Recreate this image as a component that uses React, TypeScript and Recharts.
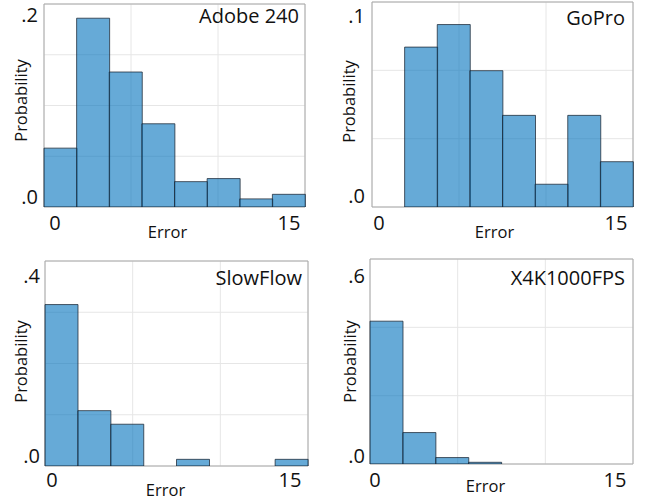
import React from "react";
import {
  BarChart,
  Bar,
  XAxis,
  YAxis,
  CartesianGrid,
  ReferenceArea,
} from "recharts";

// histogram bins (8 equal bins over error 0..15)
const binIds = ["1", "2", "3", "4", "5", "6", "7", "8"];
const binStarts = [0, 1.875, 3.75, 5.625, 7.5, 9.375, 11.25, 13.125];
const errorTicks = [0, 5, 10, 15];

// probability per bin
const adobe240 = [0.058, 0.186, 0.133, 0.082, 0.025, 0.028, 0.008, 0.0125];
const goPro = [0, 0.078, 0.089, 0.0665, 0.0447, 0.0111, 0.0447, 0.0221];
const slowFlow = [0.315, 0.108, 0.0815, 0, 0.013, 0, 0, 0.013];
const x4k1000fps = [0.418, 0.092, 0.0188, 0.005, 0, 0, 0, 0];

// y gridline values and the two labels shown (bottom, top)
const adobeTicks = [0, 0.05, 0.1, 0.15, 0.2];
const goProTicks = [0, 0.1 / 3, 0.2 / 3, 0.1];
const slowTicks = [0, 0.1, 0.2, 0.3, 0.4];
const x4kTicks = [0, 0.2, 0.4, 0.6];
const adobeYLabels = [".0", ".2"];
const goProYLabels = [".0", ".1"];
const slowYLabels = [".0", ".4"];
const x4kYLabels = [".0", ".6"];
const errorTickLabels: Record<number, string> = { 0: "0", 15: "15" };

const FONT = "'Open Sans', sans-serif";
const BIG = 20;
const SMALL = 16.5;

interface PanelLayout {
  x: number;
  y: number;
  w: number;
  h: number;
  yw: number;
  mr: number;
  mt: number;
  xh: number;
  yTopBase: number;
  yBotBase: number;
  ydx: number;
  x0dx: number;
  x15dx: number;
  xBase: number;
  errDx: number;
  errBase: number;
  probDx: number;
  probDy: number;
  titleDx: number;
  titleBase: number;
}

interface PanelProps {
  name: string;
  values: number[];
  yTicks: number[];
  yLabels: string[];
  layout: PanelLayout;
}

function HistPanel({ name, values, yTicks, yLabels, layout: L }: PanelProps) {
  const data = binIds.map((b, i) => ({ bin: b, lo: binStarts[i], p: values[i] }));
  const top = yTicks[yTicks.length - 1];

  const renderXTick = (tp: any) => {
    const v = tp.payload.value;
    const txt = errorTickLabels[v];
    if (!txt) return <g />;
    const dx = v === 0 ? L.x0dx : L.x15dx;
    return (
      <text
        x={tp.x + dx}
        y={tp.y + L.xBase}
        textAnchor="middle"
        fontFamily={FONT}
        fontSize={BIG}
        fill="#111"
      >
        {txt}
      </text>
    );
  };

  const renderYTick = (tp: any) => {
    const v = tp.payload.value;
    const isBottom = v === 0;
    const isTop = v === top;
    if (!isBottom && !isTop) return <g />;
    return (
      <text
        x={tp.x + L.ydx}
        y={tp.y + (isBottom ? L.yBotBase : L.yTopBase)}
        textAnchor="end"
        fontFamily={FONT}
        fontSize={BIG}
        fill="#111"
      >
        {isBottom ? yLabels[0] : yLabels[1]}
      </text>
    );
  };

  const renderError = (lp: any) => {
    const vb = lp.viewBox;
    return (
      <text
        x={vb.x + vb.width / 2 + L.errDx}
        y={vb.y + L.errBase}
        textAnchor="middle"
        fontFamily={FONT}
        fontSize={SMALL}
        fill="#111"
      >
        Error
      </text>
    );
  };

  const renderProb = (lp: any) => {
    const vb = lp.viewBox;
    const cx = vb.x + vb.width + L.probDx;
    const cy = vb.y + vb.height / 2 + L.probDy;
    return (
      <text
        x={cx}
        y={cy}
        transform={`rotate(-90, ${cx}, ${cy})`}
        textAnchor="middle"
        dominantBaseline="central"
        fontFamily={FONT}
        fontSize={SMALL}
        fill="#111"
      >
        Probability
      </text>
    );
  };

  const renderTitle = (lp: any) => {
    const vb = lp.viewBox;
    return (
      <text
        x={vb.x + vb.width - L.titleDx}
        y={vb.y + L.titleBase}
        textAnchor="end"
        fontFamily={FONT}
        fontSize={BIG}
        fill="#111"
      >
        {name}
      </text>
    );
  };

  return (
    <div style={{ position: "absolute", left: L.x, top: L.y }}>
      <BarChart
        width={L.w}
        height={L.h}
        data={data}
        margin={{ top: L.mt, right: L.mr, left: 0, bottom: 0 }}
        barCategoryGap={0}
        barGap={0}
      >
        <CartesianGrid xAxisId="err" stroke="#e6e6e6" />
        <XAxis
          xAxisId="err"
          dataKey="lo"
          type="number"
          domain={[0, 15]}
          allowDataOverflow
          ticks={errorTicks}
          interval={0}
          height={L.xh}
          axisLine={false}
          tickLine={false}
          tickSize={0}
          tickMargin={0}
          tick={renderXTick}
          label={renderError}
        />
        <XAxis xAxisId="bins" dataKey="bin" type="category" hide height={0} />
        <YAxis
          type="number"
          domain={[0, top]}
          allowDataOverflow
          ticks={yTicks}
          interval={0}
          width={L.yw}
          axisLine={false}
          tickLine={false}
          tickSize={0}
          tickMargin={0}
          tick={renderYTick}
          label={renderProb}
        />
        <Bar
          xAxisId="bins"
          dataKey="p"
          fill="#0072bd"
          fillOpacity={0.6}
          stroke="#1b2633"
          strokeOpacity={0.75}
          strokeWidth={1}
          isAnimationActive={false}
        />
        <ReferenceArea
          xAxisId="err"
          x1={0}
          x2={15}
          y1={0}
          y2={top}
          fill="#ffffff"
          fillOpacity={0}
          stroke="#a8a8a8"
          strokeOpacity={1}
          ifOverflow="extendDomain"
          label={renderTitle}
        />
      </BarChart>
    </div>
  );
}

const layouts: PanelLayout[] = [
  { x: 0, y: 0, w: 320, h: 250, yw: 44, mr: 15, mt: 4, xh: 43, yTopBase: 18, yBotBase: -3, ydx: -6, x0dx: 11, x15dx: -16, xBase: 23, errDx: -7, errBase: 31, probDx: -24, probDy: -5, titleDx: 6, titleBase: 19 },
  { x: 330, y: 0, w: 327, h: 250, yw: 42, mr: 24, mt: 2, xh: 43, yTopBase: 21, yBotBase: -4, ydx: -7, x0dx: 7, x15dx: -17, xBase: 23, errDx: -8, errBase: 31, probDx: -24, probDy: -3, titleDx: 8, titleBase: 23 },
  { x: 0, y: 250, w: 320, h: 247, yw: 45, mr: 12, mt: 11, xh: 31, yTopBase: 22, yBotBase: -3, ydx: -5, x0dx: 7, x15dx: -18, xBase: 21, errDx: -11, errBase: 30, probDx: -24.5, probDy: -2, titleDx: 6, titleBase: 24 },
  { x: 330, y: 250, w: 327, h: 247, yw: 40, mr: 24, mt: 9, xh: 33, yTopBase: 24, yBotBase: -1, ydx: -5, x0dx: 5, x15dx: -18, xBase: 23, errDx: -16, errBase: 28, probDx: -21, probDy: 0, titleDx: 8, titleBase: 26 },
];

export default function App() {
  return (
    <div
      style={{
        position: "absolute",
        left: 0,
        top: 0,
        width: 657,
        height: 497,
        background: "#fff",
        overflow: "hidden",
      }}
    >
      <HistPanel name="Adobe 240" values={adobe240} yTicks={adobeTicks} yLabels={adobeYLabels} layout={layouts[0]} />
      <HistPanel name="GoPro" values={goPro} yTicks={goProTicks} yLabels={goProYLabels} layout={layouts[1]} />
      <HistPanel name="SlowFlow" values={slowFlow} yTicks={slowTicks} yLabels={slowYLabels} layout={layouts[2]} />
      <HistPanel name="X4K1000FPS" values={x4k1000fps} yTicks={x4kTicks} yLabels={x4kYLabels} layout={layouts[3]} />
    </div>
  );
}
